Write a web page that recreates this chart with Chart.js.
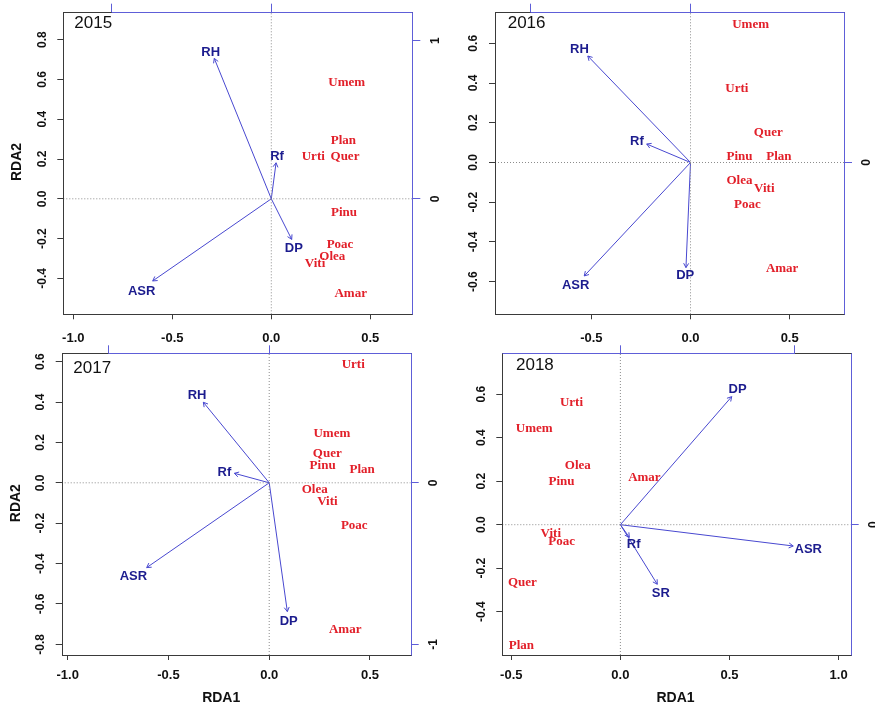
<!DOCTYPE html>
<html><head><meta charset="utf-8">
<script src="https://cdn.jsdelivr.net/npm/chart.js@4.4.1/dist/chart.umd.min.js"></script>
<style>
html,body{margin:0;padding:0;background:#fff;}
#wrap{position:relative;width:875px;height:706px;overflow:hidden;background:#fff;}
canvas{position:absolute;left:0;top:0;}
</style></head><body><div id="wrap"></div>
<script>
// ---------------- data ----------------
const years = ['2015', '2016', '2017', '2018'];

const species2015 = ['Umem', 'Plan', 'Urti', 'Quer', 'Pinu', 'Poac', 'Olea', 'Viti', 'Amar'];
const species2015X = [0.381, 0.364, 0.212, 0.372, 0.367, 0.347, 0.308, 0.221, 0.401];
const species2015Y = [0.584, 0.292, 0.212, 0.212, -0.070, -0.232, -0.291, -0.324, -0.475];
const vars2015 = ['RH', 'Rf', 'DP', 'ASR'];
const vars2015TipX = [-0.288, 0.024, 0.103, -0.599];
const vars2015TipY = [0.706, 0.181, -0.204, -0.413];
const vars2015LabelX = [-0.306, 0.029, 0.114, -0.655];
const vars2015LabelY = [0.738, 0.214, -0.249, -0.464];

const species2016 = ['Umem', 'Urti', 'Quer', 'Pinu', 'Plan', 'Olea', 'Viti', 'Poac', 'Amar'];
const species2016X = [0.303, 0.234, 0.392, 0.247, 0.446, 0.247, 0.372, 0.287, 0.462];
const species2016Y = [0.696, 0.370, 0.152, 0.029, 0.029, -0.092, -0.130, -0.210, -0.536];
const vars2016 = ['RH', 'Rf', 'DP', 'ASR'];
const vars2016TipX = [-0.518, -0.221, -0.023, -0.536];
const vars2016TipY = [0.536, 0.093, -0.529, -0.571];
const vars2016LabelX = [-0.560, -0.270, -0.027, -0.579];
const vars2016LabelY = [0.568, 0.105, -0.570, -0.617];

const species2017 = ['Urti', 'Umem', 'Quer', 'Pinu', 'Plan', 'Olea', 'Viti', 'Poac', 'Amar'];
const species2017X = [0.417, 0.311, 0.288, 0.265, 0.461, 0.226, 0.289, 0.422, 0.377];
const species2017Y = [0.583, 0.245, 0.143, 0.085, 0.063, -0.036, -0.094, -0.214, -0.729];
const vars2017 = ['RH', 'Rf', 'DP', 'ASR'];
const vars2017TipX = [-0.327, -0.173, 0.090, -0.608];
const vars2017TipY = [0.399, 0.047, -0.638, -0.420];
const vars2017LabelX = [-0.358, -0.222, 0.097, -0.674];
const vars2017LabelY = [0.433, 0.052, -0.685, -0.465];

const species2018 = ['Urti', 'Umem', 'Olea', 'Pinu', 'Amar', 'Viti', 'Poac', 'Quer', 'Plan'];
const species2018X = [-0.224, -0.395, -0.195, -0.270, 0.110, -0.319, -0.269, -0.449, -0.454];
const species2018Y = [0.561, 0.443, 0.272, 0.198, 0.216, -0.040, -0.078, -0.265, -0.558];
const vars2018 = ['DP', 'ASR', 'Rf', 'SR'];
const vars2018TipX = [0.510, 0.792, 0.041, 0.169];
const vars2018TipY = [0.589, -0.098, -0.058, -0.274];
const vars2018LabelX = [0.537, 0.861, 0.061, 0.185];
const vars2018LabelY = [0.623, -0.113, -0.093, -0.316];

const xTitle = 'RDA1';
const yTitle = 'RDA2';
const xTickStep = 0.5;
const yTickStep = 0.2;
const secondaryTickStep = 1;

// ---------------- layout & styles ----------------
const W = 875, H = 706;
const COL_FRAME = '#3a3a3a';
const COL_AXIS2 = '#5e5ed8';
const COL_ARROW = '#4848d0';
const COL_VAR = '#1c1c8e';
const COL_SPEC = '#e2202a';
const COL_ZERO = '#8c8c8c';
const SANS = '"Liberation Sans", Arial, sans-serif';
const SERIF = '"Liberation Serif", "Times New Roman", serif';

const panelLayouts = [
  { box: [63.3, 11.7, 412.3, 314.3], x: [-1.0505, 0.7121], y: [-0.5807, 0.9407],
    x2: [-1.303, 0.8835], y2: [-0.7305, 1.1834], topBlue: [-1, null],
    tickPad: 11.2, yearOff: [11, 11.6], showY: true, showX: false, xTitleShift: 0 },
  { box: [495, 11.7, 844, 314.3], x: [-0.986, 0.774], y: [-0.764, 0.759],
    x2: [-1.222, 0.959], y2: [-0.949, 0.9425], topBlue: [-1, null],
    tickPad: 11.2, yearOff: [12.7, 11.6], showY: false, showX: false, xTitleShift: 0 },
  { box: [61.7, 353.3, 410.7, 655], x: [-1.0298, 0.7022], y: [-0.8529, 0.6414],
    x2: [-1.2896, 0.8794], y2: [-1.0663, 0.8019], topBlue: [-1, null],
    tickPad: 7.5, yearOff: [11.6, 15], showY: true, showX: true, xTitleShift: -15 },
  { box: [502.3, 353.3, 850.7, 655], x: [-0.5412, 1.0555], y: [-0.5994, 0.7884],
    x2: [-0.676, 1.319], y2: [-0.746, 0.982], topBlue: [null, 1],
    tickPad: 7.5, yearOff: [13.7, 11.7], showY: false, showX: true, xTitleShift: -1 }
];

const panelData = [
  { year: years[0], sp: species2015, spX: species2015X, spY: species2015Y, v: vars2015, tx: vars2015TipX, ty: vars2015TipY, lx: vars2015LabelX, ly: vars2015LabelY },
  { year: years[1], sp: species2016, spX: species2016X, spY: species2016Y, v: vars2016, tx: vars2016TipX, ty: vars2016TipY, lx: vars2016LabelX, ly: vars2016LabelY },
  { year: years[2], sp: species2017, spX: species2017X, spY: species2017Y, v: vars2017, tx: vars2017TipX, ty: vars2017TipY, lx: vars2017LabelX, ly: vars2017LabelY },
  { year: years[3], sp: species2018, spX: species2018X, spY: species2018Y, v: vars2018, tx: vars2018TipX, ty: vars2018TipY, lx: vars2018LabelX, ly: vars2018LabelY }
];

const AX_B = 30, AX_T = 10, AX_L = 30, AX_R = 30;

function rotText(ctx, txt, x, y) {
  ctx.save();
  ctx.translate(x, y);
  ctx.rotate(-Math.PI / 2);
  ctx.fillText(txt, 0, 0);
  ctx.restore();
}

const decorPlugin = {
  id: 'biplotDecor',
  afterDatasetsDraw(chart) {
    const ctx = chart.ctx;
    const area = chart.chartArea;
    ctx.save();
    chart.data.datasets.forEach((ds, i) => {
      const meta = chart.getDatasetMeta(i);
      if (ds.arrowHead) {
        const p0 = meta.data[0], p1 = meta.data[1];
        const ang = Math.atan2(p1.y - p0.y, p1.x - p0.x);
        const len = 5, spread = Math.PI / 6;
        ctx.strokeStyle = ds.borderColor;
        ctx.lineWidth = 1;
        ctx.beginPath();
        ctx.moveTo(p1.x - len * Math.cos(ang - spread), p1.y - len * Math.sin(ang - spread));
        ctx.lineTo(p1.x, p1.y);
        ctx.lineTo(p1.x - len * Math.cos(ang + spread), p1.y - len * Math.sin(ang + spread));
        ctx.stroke();
      }
      if (ds.textLabels) {
        ctx.fillStyle = ds.textColor;
        ctx.font = ds.textFont;
        ctx.textAlign = 'center';
        ctx.textBaseline = 'middle';
        meta.data.forEach((pt, j) => {
          ctx.fillText(ds.textLabels[j], pt.x, pt.y);
        });
      }
    });
    ctx.restore();
  },
  afterDraw(chart) {
    const ctx = chart.ctx;
    const a = chart.chartArea;
    const lay = chart.options.plugins.biplotDecor;
    const sx2 = chart.scales.x2, sy = chart.scales.y, sy2 = chart.scales.y2;
    const L = Math.round(a.left) + 0.5, R = Math.round(a.right) + 0.5;
    const T = Math.round(a.top) + 0.5, B = Math.round(a.bottom) + 0.5;
    ctx.save();
    // black frame
    ctx.strokeStyle = COL_FRAME;
    ctx.lineWidth = 1;
    ctx.strokeRect(L, T, R - L, B - T);
    // blue secondary axes lines
    ctx.strokeStyle = COL_AXIS2;
    ctx.beginPath();
    const fromX = lay.topBlue[0] === null ? L : sx2.getPixelForValue(lay.topBlue[0]);
    const toX = lay.topBlue[1] === null ? R : sx2.getPixelForValue(lay.topBlue[1]);
    ctx.moveTo(fromX, T); ctx.lineTo(toX, T);
    ctx.moveTo(R, T); ctx.lineTo(R, B);
    ctx.stroke();
    // left tick labels (rotated, R style)
    ctx.fillStyle = '#111';
    ctx.textAlign = 'center';
    ctx.textBaseline = 'middle';
    ctx.font = 'bold 12px ' + SANS;
    sy.ticks.forEach(t => {
      rotText(ctx, t.label, a.left - 21, sy.getPixelForValue(t.value));
    });
    // right tick labels of the secondary scale
    sy2.ticks.forEach(t => {
      rotText(ctx, t.label, a.right + 23, sy2.getPixelForValue(t.value));
    });
    // axis titles
    ctx.font = 'bold 14px ' + SANS;
    if (lay.showY) rotText(ctx, yTitle, a.left - 46, (a.top + a.bottom) / 2 - 1);
    if (lay.showX) ctx.fillText(xTitle, (a.left + a.right) / 2 + lay.xTitleShift, a.bottom + 43.3);
    // year
    ctx.font = '17px ' + SANS;
    ctx.textAlign = 'left';
    ctx.fillStyle = '#111';
    ctx.fillText(lay.year, a.left + lay.yearOff[0], a.top + lay.yearOff[1]);
    ctx.restore();
  }
};

function buildPanel(idx) {
  const lay = panelLayouts[idx];
  const d = panelData[idx];
  const canvas = document.createElement('canvas');
  canvas.width = W; canvas.height = H;
  document.getElementById('wrap').appendChild(canvas);

  const datasets = [];
  // dotted zero lines
  datasets.push({ data: [{ x: lay.x[0], y: 0 }, { x: lay.x[1], y: 0 }], showLine: true, borderColor: COL_ZERO, borderWidth: 1, borderDash: [1, 2], pointRadius: 0 });
  datasets.push({ data: [{ x: 0, y: lay.y[0] }, { x: 0, y: lay.y[1] }], showLine: true, borderColor: COL_ZERO, borderWidth: 1, borderDash: [1, 2], pointRadius: 0 });
  // arrows
  d.v.forEach((name, j) => {
    datasets.push({ data: [{ x: 0, y: 0 }, { x: d.tx[j], y: d.ty[j] }], showLine: true, borderColor: COL_ARROW, borderWidth: 1, pointRadius: 0, arrowHead: true });
  });
  // species labels
  datasets.push({ data: d.sp.map((s, j) => ({ x: d.spX[j], y: d.spY[j] })), pointRadius: 0, textLabels: d.sp, textColor: COL_SPEC, textFont: 'bold 13px ' + SERIF });
  // variable labels
  datasets.push({ data: d.v.map((s, j) => ({ x: d.lx[j], y: d.ly[j] })), pointRadius: 0, textLabels: d.v, textColor: COL_VAR, textFont: 'bold 13px ' + SANS });

  const [bl, bt, br, bb] = lay.box;
  new Chart(canvas, {
    type: 'scatter',
    data: { datasets },
    options: {
      responsive: false,
      animation: false,
      events: [],
      layout: { padding: { left: bl - AX_L, top: bt - AX_T, right: W - br - AX_R, bottom: H - bb - AX_B } },
      plugins: {
        legend: { display: false },
        tooltip: { enabled: false },
        biplotDecor: Object.assign({ year: d.year }, lay)
      },
      scales: {
        x: {
          type: 'linear', position: 'bottom', min: lay.x[0], max: lay.x[1],
          ticks: { stepSize: xTickStep, includeBounds: false, color: '#111', padding: lay.tickPad,
                   font: { family: SANS, size: 13, weight: 'bold' }, callback: v => v.toFixed(1), maxRotation: 0, autoSkip: false },
          grid: { drawOnChartArea: false, drawTicks: true, tickLength: 5, color: COL_FRAME },
          border: { display: false },
          afterFit: s => { s.height = AX_B; }
        },
        y: {
          type: 'linear', position: 'left', min: lay.y[0], max: lay.y[1],
          ticks: { stepSize: yTickStep, includeBounds: false, display: false, callback: v => v.toFixed(1) },
          grid: { drawOnChartArea: false, drawTicks: true, tickLength: 6, color: COL_FRAME },
          border: { display: false },
          afterFit: s => { s.width = AX_L; }
        },
        x2: {
          type: 'linear', position: 'top', min: lay.x2[0], max: lay.x2[1],
          ticks: { stepSize: secondaryTickStep, includeBounds: false, display: false },
          grid: { drawOnChartArea: false, drawTicks: true, tickLength: 8, color: COL_AXIS2 },
          border: { display: false },
          afterFit: s => { s.height = AX_T; }
        },
        y2: {
          type: 'linear', position: 'right', min: lay.y2[0], max: lay.y2[1],
          ticks: { stepSize: secondaryTickStep, includeBounds: false, display: false, callback: v => String(Math.round(v)) },
          grid: { drawOnChartArea: false, drawTicks: true, tickLength: 8, color: COL_AXIS2 },
          border: { display: false },
          afterFit: s => { s.width = AX_R; }
        }
      }
    },
    plugins: [decorPlugin]
  });
}

[0, 1, 2, 3].forEach(buildPanel);
</script>
</body></html>
